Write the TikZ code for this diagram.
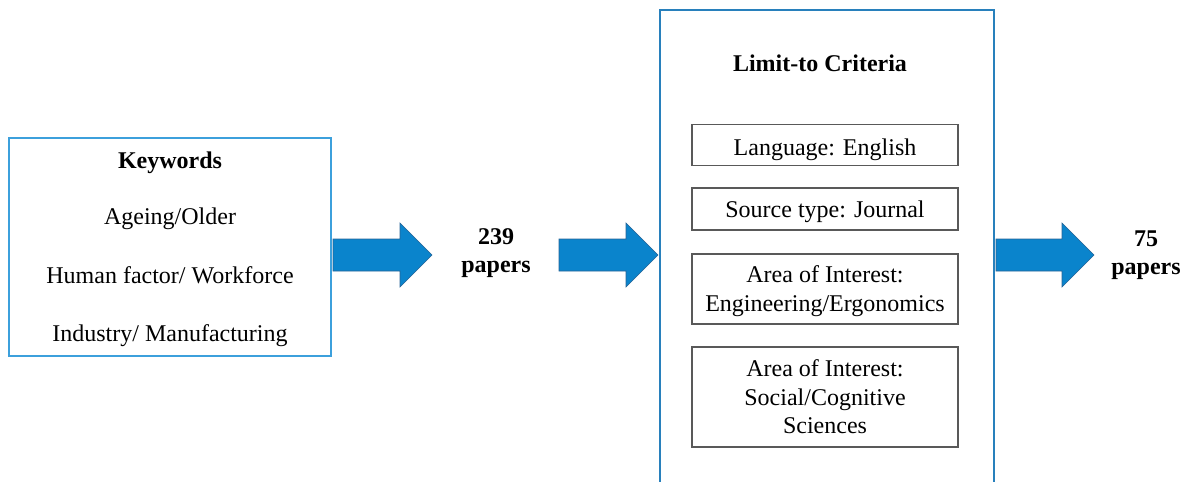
\documentclass[tikz,border=0pt]{standalone}
\usepackage{fontspec}
\setmainfont{Liberation Serif}
\begin{document}
\begin{tikzpicture}[x=1pt,y=-1pt,
  txt/.style={font=\fontsize{24}{28.5}\selectfont, align=center, inner sep=0pt},
  btxt/.style={font=\fontsize{24}{27.5}\selectfont\bfseries, align=center, inner sep=0pt},
  critbox/.style={draw=black!65, line width=1.3pt, inner sep=0pt},
  blockarrow/.style={fill=arrowblue, draw=arrowedge, line width=0.6pt, line join=miter}
]
\definecolor{lightbord}{RGB}{60,160,220}
\definecolor{darkbord}{RGB}{40,128,188}
\definecolor{arrowblue}{RGB}{10,132,204}
\definecolor{arrowedge}{RGB}{40,100,150}
\useasboundingbox (0,0) rectangle (1189,482);
\clip (0,0) rectangle (1189,482);

% Keywords box
\node[draw=lightbord, line width=1.2pt, minimum width=322pt, minimum height=218pt, inner sep=0pt] (kw) at (170,247) {};
\node[btxt] (kwt) at (170,163) {Keywords};
\node[txt] (k1) at (170,219) {Ageing/Older};
\node[txt] (k2) at (170,275) {Human factor/ Workforce};
\node[txt] (k3) at (170,336) {Industry/ Manufacturing};

% arrow 1
\draw[blockarrow] (333,239) -- (400,239) -- (400,223) -- (432,255) -- (400,287) -- (400,271) -- (333,271) -- cycle;
\node[btxt] (n239) at (496,253) {239\\papers};

% arrow 2
\draw[blockarrow] (559,239) -- (626,239) -- (626,223) -- (658,255) -- (626,287) -- (626,271) -- (559,271) -- cycle;

% Limit-to box (extends beyond bottom)
\coordinate (lbl) at (660,490);
\coordinate (ltl) at (660,10);
\coordinate (ltr) at (994,10);
\coordinate (lbr) at (994,490);
\draw[darkbord, line width=1.4pt] (lbl) -- (ltl) -- (ltr) -- (lbr);
\node[btxt] (lt) at (820,63) {Limit-to Criteria};

\node[critbox, minimum width=266pt, minimum height=41pt] (c1) at (825,145) {};
\node[txt] at ([yshift=-5pt]c1) {Language: English};
\node[critbox, minimum width=266pt, minimum height=42pt] (c2) at (825,209) {};
\node[txt] at ([yshift=-3pt]c2) {Source type: Journal};
\node[critbox, minimum width=266pt, minimum height=70pt] (c3) at (825,289) {};
\node[txt] at ([yshift=-2pt]c3) {Area of Interest:\\Engineering/Ergonomics};
\node[critbox, minimum width=266pt, minimum height=100pt] (c4) at (825,397) {};
\node[txt] at ([yshift=0pt]c4) {Area of Interest:\\Social/Cognitive\\Sciences};

% arrow 3
\draw[blockarrow] (996,239) -- (1062,239) -- (1062,223) -- (1094,255) -- (1062,287) -- (1062,271) -- (996,271) -- cycle;
\node[btxt] (n75) at (1146,255) {75\\papers};
\end{tikzpicture}
\end{document}
